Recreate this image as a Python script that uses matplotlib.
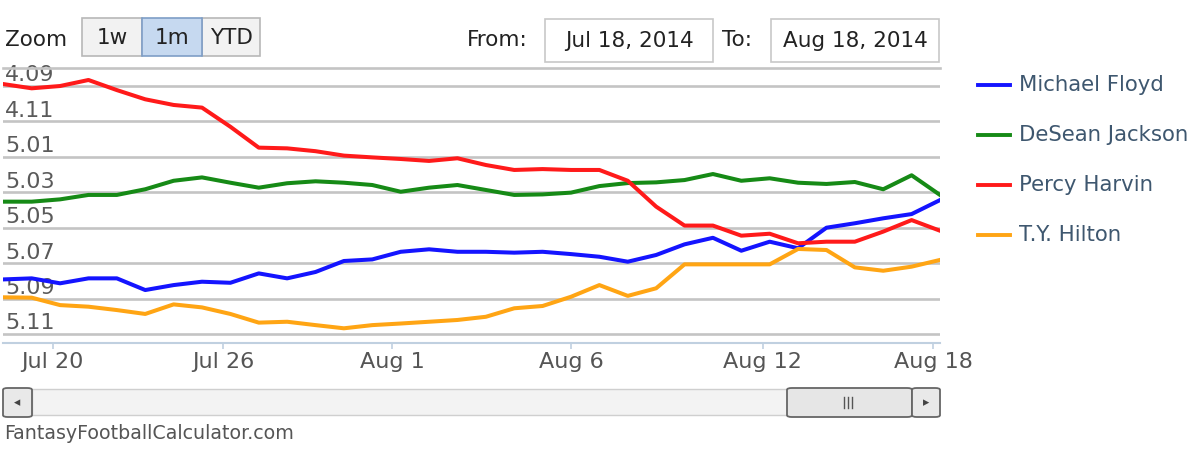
import matplotlib
matplotlib.use("Agg")
import matplotlib.pyplot as plt
from matplotlib.lines import Line2D
from matplotlib.patches import FancyBboxPatch, Rectangle

# ---------------- data (overall draft pick, 12-team league) ----------------
players = ["Michael Floyd", "DeSean Jackson", "Percy Harvin", "T.Y. Hilton"]
colors = ["#1414ff", "#168a16", "#ff1a1a", "#ffa514"]

michael_floyd = [55.92, 55.86, 56.14, 55.86, 55.86, 56.52, 56.24, 56.05, 56.11, 55.58, 55.86, 55.50,
                 54.88, 54.79, 54.36, 54.22, 54.36, 54.36, 54.41, 54.36, 54.49, 54.64,
                 54.92, 54.54, 53.94, 53.57, 54.30, 53.79, 54.16, 53.00, 52.75, 52.47, 52.23, 51.44]
desean_jackson = [51.53, 51.53, 51.40, 51.15, 51.15, 50.83, 50.35, 50.16, 50.46, 50.74, 50.49, 50.38,
                  50.46, 50.59, 50.97, 50.74, 50.59, 50.87, 51.15, 51.12, 51.02, 50.65,
                  50.48, 50.44, 50.31, 49.97, 50.35, 50.21, 50.46, 50.53, 50.42, 50.83, 50.04, 51.15]
percy_harvin = [44.89, 45.13, 45.00, 44.66, 45.23, 45.75, 46.07, 46.22, 47.30, 48.48, 48.52, 48.68,
                48.93, 49.03, 49.12, 49.23, 49.08, 49.46, 49.74, 49.69, 49.74, 49.74,
                50.35, 51.81, 52.88, 52.88, 53.45, 53.34, 53.88, 53.79, 53.79, 53.22, 52.57, 53.17]
ty_hilton = [56.93, 56.95, 57.37, 57.46, 57.65, 57.87, 57.33, 57.50, 57.87, 58.36, 58.31, 58.50,
             58.68, 58.50, 58.41, 58.31, 58.21, 58.03, 57.55, 57.42, 56.90, 56.24,
             56.85, 56.42, 55.07, 55.07, 55.07, 55.07, 54.20, 54.26, 55.24, 55.43, 55.20, 54.82]
series = [michael_floyd, desean_jackson, percy_harvin, ty_hilton]

y_tick_values = [45, 47, 49, 51, 53, 55, 57, 59]
y_tick_labels = ["4.09", "4.11", "5.01", "5.03", "5.05", "5.07", "5.09", "5.11"]
x_tick_positions = [1.74, 7.74, 13.71, 20.0, 26.75, 32.77]
x_tick_labels = ["Jul 20", "Jul 26", "Aug 1", "Aug 6", "Aug 12", "Aug 18"]
zoom_buttons = ["1w", "1m", "YTD"]
date_from = "Jul 18, 2014"
date_to = "Aug 18, 2014"

# ---------------- figure ----------------
W, H = 1200, 465
fig = plt.figure(figsize=(W / 100, H / 100), dpi=100)
FONT = "DejaVu Sans"


def fx(x):
    return x / W


def fy(y):
    return 1 - y / H


left, right, top, bottom = 3.3, 940, 68.3, 343
ax = fig.add_axes([fx(left), fy(bottom), fx(right - left), (bottom - top) / H])

xs = list(range(len(michael_floyd)))
for i, (vals, col) in enumerate(zip(series, colors)):
    ax.plot(xs, vals, color=col, lw=2.9, solid_joinstyle="round", zorder=3 + i)

ax.set_xlim(0, len(xs) - 1)
ax.set_ylim(59.51, 44)

grid_c = "#c4c4c4"
ax.set_yticks(y_tick_values)
ax.yaxis.grid(True, color=grid_c, lw=1.9)
ax.tick_params(axis="y", left=False, labelleft=False)
ax.set_axisbelow(True)
for yv, lab in zip(y_tick_values, y_tick_labels):
    ax.annotate(lab, xy=(0, yv), xycoords=("axes fraction", "data"),
                xytext=(1.2, 3.3), textcoords="offset points", ha="left", va="baseline",
                fontsize=16, color="#5a5a5a", family=FONT, zorder=2)

for s in ["left", "right"]:
    ax.spines[s].set_visible(False)
ax.spines["top"].set_color(grid_c)
ax.spines["top"].set_linewidth(1.9)
ax.spines["bottom"].set_color("#c0d0e0")
ax.spines["bottom"].set_linewidth(1.5)

ax.set_xticks(x_tick_positions)
ax.set_xticklabels(x_tick_labels, fontsize=16, color="#555555", family=FONT)
ax.tick_params(axis="x", direction="out", length=4.5, width=1.2, color="#c0d0e0", pad=2)

# ---------------- legend ----------------
legend_rows = [85, 135, 185, 235]
for name, col, yy in zip(players, colors, legend_rows):
    fig.add_artist(Line2D([fx(978), fx(1010)], [fy(yy), fy(yy)], color=col, lw=2.8))
    fig.text(fx(1019), fy(yy), name, fontsize=15.3, color="#3e576f", family=FONT,
             ha="left", va="center")

# ---------------- range selector ----------------
fig.text(fx(5), fy(40), "Zoom", fontsize=15.5, color="#222222", family=FONT,
         ha="left", va="center", weight="medium")
btn_edges = [82, 142, 202, 260]
for i, lab in enumerate(zoom_buttons):
    x0, x1 = btn_edges[i], btn_edges[i + 1]
    sel = (lab == "1m")
    fc = "#c6d9f0" if sel else "#f2f2f2"
    ec = "#7e9ec6" if sel else "#b8b8b8"
    fig.add_artist(Rectangle((fx(x0), fy(56)), fx(x1 - x0), (56 - 18) / H,
                             transform=fig.transFigure, facecolor=fc, edgecolor=ec, lw=1.2,
                             zorder=2 if sel else 1))
    fig.text(fx((x0 + x1) / 2), fy(38), lab, fontsize=15.5, color="#222222", family=FONT,
             ha="center", va="center", zorder=3)

fig.text(fx(467), fy(40), "From:", fontsize=15.5, color="#222222", family=FONT,
         ha="left", va="center")
fig.add_artist(Rectangle((fx(545), fy(62)), fx(168), (62 - 19) / H, transform=fig.transFigure,
                         facecolor="white", edgecolor="#c8c8c8", lw=1.2))
fig.text(fx(629), fy(41), date_from, fontsize=15.5, color="#222222", family=FONT,
         ha="center", va="center")
fig.text(fx(722), fy(40), "To:", fontsize=15.5, color="#222222", family=FONT,
         ha="left", va="center")
fig.add_artist(Rectangle((fx(771), fy(62)), fx(168), (62 - 19) / H, transform=fig.transFigure,
                         facecolor="white", edgecolor="#c8c8c8", lw=1.2))
fig.text(fx(855), fy(41), date_to, fontsize=15.5, color="#222222", family=FONT,
         ha="center", va="center")

# ---------------- scrollbar ----------------
def rbox(x0, y0, x1, y1, fc, ec, lw=1.3):
    fig.add_artist(FancyBboxPatch((fx(x0), fy(y1)), fx(x1 - x0), (y1 - y0) / H,
                                  boxstyle="round,pad=0,rounding_size=0.004",
                                  transform=fig.transFigure, facecolor=fc, edgecolor=ec, lw=lw))

fig.add_artist(Rectangle((fx(32), fy(415)), fx(880), (415 - 389) / H, transform=fig.transFigure,
                         facecolor="#f3f3f3", edgecolor="#cfcfcf", lw=1.0))
rbox(3, 388, 32, 417, "#e9e9e9", "#666666")
rbox(787, 388, 912, 417, "#e6e6e6", "#666666")
rbox(912, 388, 940, 417, "#e9e9e9", "#666666")
fig.text(fx(17.5), fy(402.5), "\u25C2", fontsize=9, color="#444444", ha="center", va="center")
fig.text(fx(926), fy(402.5), "\u25B8", fontsize=9, color="#444444", ha="center", va="center")
for gx in [844, 848, 852]:
    fig.add_artist(Line2D([fx(gx), fx(gx)], [fy(397), fy(408)], color="#555555", lw=1.0))

fig.text(fx(4), fy(433), "FantasyFootballCalculator.com", fontsize=13.7, color="#555555",
         family=FONT, ha="left", va="center")

fig.savefig("out.png", dpi=100, facecolor="white")
